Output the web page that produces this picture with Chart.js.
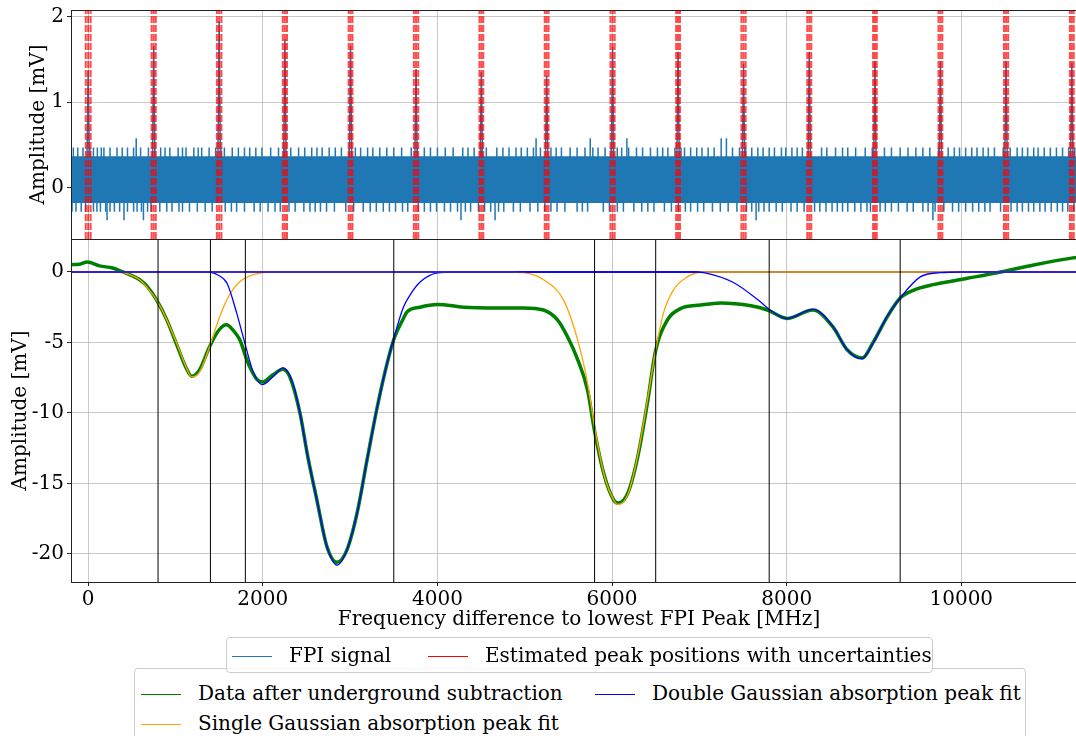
<!DOCTYPE html>
<html lang="en">
<head>
<meta charset="UTF-8">
<meta name="viewport" content="width=device-width, initial-scale=1.0">
<title>FPI signal and absorption peak fits</title>
<script src="https://cdn.jsdelivr.net/npm/chart.js@4.4.1/dist/chart.umd.min.js"></script>
<style>
  body { margin: 0; width: 1076px; height: 736px; overflow: hidden; position: relative; background: #fff; font-family: 'DejaVu Serif', serif; }
  canvas { position: absolute; left: 0; }
  .legend { position: absolute; background: rgba(255,255,255,0.8); border: 1px solid #cccccc; border-radius: 4px; font-size: 20px; color: #000; }
  .item { position: absolute; white-space: nowrap; line-height: 24px; }
  .swatch { display: inline-block; width: 40px; height: 0; border-top: 1.5px solid; vertical-align: middle; margin-right: 17px; }
</style>
</head>
<body>

<canvas id="fpiChart" width="1087" height="240" style="top:0;"></canvas>
<canvas id="absChart" width="1087" height="410" style="top:230px;"></canvas>

<!-- lower legend first, the upper one sits on top of its edge -->
<div class="legend" style="left:134px; top:668px; width:890px; height:90px;">
  <div class="item" style="left:6px; top:12px;"><span class="swatch" style="border-color:#008000;"></span>Data after underground subtraction</div>
  <div class="item" style="left:460px; top:12px;"><span class="swatch" style="border-color:#0000ff;"></span>Double Gaussian absorption peak fit</div>
  <div class="item" style="left:6px; top:42px;"><span class="swatch" style="border-color:#ffa500;"></span>Single Gaussian absorption peak fit</div>
</div>
<div class="legend" style="left:226px; top:637px; width:705px; height:34px;">
  <div class="item" style="left:5px; top:5px;"><span class="swatch" style="border-color:#1f77b4;"></span>FPI signal</div>
  <div class="item" style="left:201px; top:5px;"><span class="swatch" style="border-color:#ff0000;"></span>Estimated peak positions with uncertainties</div>
</div>

<script>
// frequency axis shared by both panels [MHz]
const freqMin = -197;
const freqMax = 11440;
const freqTicks = [0, 2000, 4000, 6000, 8000, 10000];

// ---- upper panel: FPI transmission [mV] ----
const fpiMin = -0.6;
const fpiMax = 2.08;
const fpiTicks = [0, 1, 2];

// noise band of the FPI trace
const fpiBandX = [freqMin, freqMax];
const fpiBandTop = [0.36, 0.36];
const fpiBandBottom = [-0.17, -0.17];

// single samples sticking out of the band
const fpiSpikeUpX = [-170, -120, -60, 20, 60, 105, 150, 180, 250, 330, 390, 450, 520, 600, 690, 760, 830, 880, 935,
  1030, 1080, 1120, 1210, 1260, 1300, 1385, 1460, 1520, 1560, 1650, 1720, 1790, 1850, 1920, 1990, 2090, 2180, 2250,
  2320, 2410, 2480, 2560, 2620, 2680, 2760, 2830, 2900, 2990, 3060, 3120, 3200, 3260, 3340, 3420, 3500, 3590, 3700,
  3770, 3850, 3920, 4000, 4090, 4180, 4290, 4350, 4420, 4500, 4560, 4680, 4750, 4820, 4900, 4960, 5030, 5100, 5180,
  5300, 5360, 5420, 5520, 5600, 5690, 5780, 5840, 5920, 5990, 6060, 6110, 6190, 6280, 6350, 6440, 6520, 6580, 6640,
  6720, 6790, 6830, 6900, 6970, 7030, 7100, 7170, 7380, 7460, 7530, 7600, 7670, 7730, 7800, 7860, 7940, 7990, 8060,
  8120, 8180, 8400, 8460, 8560, 8640, 8700, 8790, 8900, 8980, 9120, 9200, 9300, 9390, 9480, 9560, 9640, 9740, 9850,
  9920, 9980, 10050, 10120, 10180, 10250, 10310, 10380, 10480, 10560, 10640, 10700, 10760, 10830, 10880, 10950,
  11020, 11090, 11160, 11230, 11300, 11380];
const fpiSpikeTallX = [550, 5130, 5750, 6170, 7250, 7310];
const fpiSpikeDownX = [-185, -140, -80, -30, 60, 100, 140, 200, 250, 300, 360, 450, 520, 560, 610, 680, 720, 820, 900,
  960, 1040, 1080, 1160, 1250, 1340, 1420, 1570, 1640, 1700, 1790, 1900, 1970, 2060, 2140, 2200, 2300, 2370, 2470,
  2540, 2600, 2660, 2730, 2820, 2950, 3040, 3150, 3230, 3300, 3380, 3450, 3520, 3600, 3660, 3780, 3850, 3920, 3990,
  4080, 4150, 4230, 4320, 4380, 4470, 4540, 4610, 4700, 4760, 4870, 4950, 5060, 5150, 5230, 5300, 5370, 5460, 5600,
  5660, 5720, 5900, 5970, 6060, 6130, 6250, 6340, 6410, 6480, 6600, 6680, 6760, 6840, 6900, 6980, 7050, 7150, 7240,
  7330, 7430, 7540, 7600, 7680, 7740, 7800, 7880, 7950, 8050, 8120, 8200, 8320, 8380, 8450, 8520, 8580, 8640, 8700,
  8780, 8850, 8920, 8960, 9070, 9130, 9200, 9280, 9380, 9450, 9560, 9620, 9700, 9800, 9900, 9970, 10050, 10130,
  10200, 10270, 10330, 10450, 10570, 10640, 10700, 10770, 10830, 10900, 10960, 11030, 11100, 11160, 11220, 11290,
  11370];
const fpiSpikeDeepX = [216, 410, 633, 4270, 4660, 7650, 9675];
const fpiSpikeLevels = [0.47, 0.58, -0.28, -0.38];

// FPI transmission peaks and their estimated positions
const peakPositions = [0, 750, 1500, 2253, 3005, 3755, 4503, 5251, 6006, 6756, 7506, 8259, 9011, 9761, 10513, 11266];
const peakErrors = [28, 24, 26, 24, 22, 25, 22, 22, 24, 22, 24, 23, 21, 22, 24, 22];
const peakHeights = [1.37, 1.66, 1.95, 1.74, 1.66, 1.39, 1.35, 1.31, 1.65, 1.59, 1.45, 1.59, 1.48, 1.48, 1.48, 1.46];

// ---- lower panel: absorption signal [mV] ----
const absMin = -22.0;
const absMax = 2.34;
const absTicks = [0, -5, -10, -15, -20];

const dataX = [-197, -100, -10, 130, 280, 400, 480, 590, 680, 785, 900, 1010, 1125, 1185, 1275, 1390, 1500, 1585,
  1655, 1735, 1830, 1930, 2000, 2115, 2230, 2310, 2425, 2515, 2620, 2735, 2850, 2965, 3080, 3195, 3310, 3425, 3505,
  3610, 3650, 3800, 4000, 4300, 4690, 4985, 5215, 5375, 5490, 5605, 5720, 5800, 5905, 6020, 6070, 6180, 6295, 6410,
  6495, 6635, 6785, 7015, 7245, 7590, 7780, 8005, 8300, 8530, 8690, 8865, 8990, 9150, 9300, 9450, 9680, 10070,
  10450, 10830, 11280, 11440];
const dataY = [0.52, 0.55, 0.7, 0.43, 0.28, 0.0, -0.2, -0.55, -1.05, -2.0, -3.4, -5.1, -6.85, -7.4, -6.95, -5.3, -4.1,
  -3.75, -4.1, -4.8, -6.45, -7.6, -7.8, -7.3, -6.9, -7.45, -10.0, -13.1, -16.2, -19.5, -20.6, -19.7, -17.1, -13.3,
  -9.6, -6.45, -4.7, -3.3, -2.85, -2.5, -2.3, -2.5, -2.55, -2.55, -2.7, -3.4, -4.6, -6.2, -8.4, -11.3, -14.3, -16.2,
  -16.4, -15.7, -13.1, -9.1, -5.7, -3.4, -2.6, -2.35, -2.2, -2.4, -2.7, -3.3, -2.7, -3.9, -5.5, -6.1, -5.0, -3.2,
  -1.85, -1.3, -0.9, -0.45, 0.0, 0.5, 1.0, 1.12];

// single Gaussian fits, one per window pair
const singleAX = [-197, 300, 390, 480, 590, 680, 785, 900, 1010, 1125, 1185, 1275, 1390, 1505, 1620, 1735, 1880, 2000,
  2150, 11440];
const singleAY = [0, 0, -0.02, -0.2, -0.55, -1.15, -2.0, -3.4, -5.0, -6.8, -7.45, -7.1, -5.3, -3.2, -1.6, -0.7, -0.2,
  -0.05, 0, 0];
const singleBX = [-197, 4800, 4985, 5215, 5445, 5605, 5720, 5800, 5905, 6020, 6070, 6180, 6295, 6410, 6495, 6590, 6700,
  6860, 7050, 11440];
const singleBY = [0, 0, -0.05, -0.55, -2.0, -4.8, -7.9, -11.0, -14.3, -16.2, -16.5, -15.8, -13.0, -8.9, -5.7, -2.9,
  -1.3, -0.35, 0, 0];

// double Gaussian fits
const doubleAX = [-197, 1300, 1400, 1480, 1590, 1700, 1805, 1885, 1990, 2115, 2230, 2345, 2425, 2515, 2620, 2735, 2850,
  2965, 3080, 3195, 3310, 3425, 3505, 3610, 3690, 3805, 4000, 4200, 11440];
const doubleAY = [0, 0, -0.02, -0.2, -0.8, -2.9, -5.3, -7.0, -8.0, -7.45, -6.8, -7.9, -10.0, -13.1, -16.2, -19.5, -20.8,
  -19.7, -17.1, -13.3, -9.6, -6.45, -4.6, -2.5, -1.6, -0.7, -0.07, 0, 0];
const doubleBX = [-197, 6950, 7050, 7390, 7695, 7810, 8000, 8305, 8535, 8690, 8860, 8995, 9145, 9300, 9530, 9760, 10000,
  11440];
const doubleBY = [0, 0, -0.05, -0.75, -2.1, -2.7, -3.3, -2.65, -3.9, -5.5, -6.15, -5.0, -3.2, -1.85, -0.35, -0.05, 0, 0];

// limits of the fit windows
const fitBounds = [800, 1400, 1800, 3500, 5800, 6500, 7800, 9300];

// ---- helpers ----
const pts = (xs, ys) => xs.map((x, i) => ({x: x, y: ys[i]}));

function vlines(xs, y0, y1) {
  const out = [];
  xs.forEach(x => out.push({x: x, y: y0}, {x: x, y: y1}, {x: x, y: null}));
  return out;
}

function spikes(xs, base, tip) {
  const out = [];
  xs.forEach(x => out.push({x: x, y: base}, {x: x, y: tip}, {x: x, y: null}));
  return out;
}

function peaks(xs, hs, base) {
  const out = [];
  xs.forEach((x, i) => out.push({x: x - 14, y: base}, {x: x, y: hs[i]}, {x: x + 14, y: base}, {x: x, y: null}));
  return out;
}

Chart.defaults.font.family = "'DejaVu Serif', serif";
Chart.defaults.font.size = 20;
Chart.defaults.color = '#000';

const gridColor = 'rgba(176,176,176,0.7)';
const fpiBlue = '#1f77b4';
const peakRed = 'rgba(255,0,0,0.7)';

// black frame around the plotting area
const axesFrame = {
  id: 'axesFrame',
  afterDatasetsDraw(chart) {
    const a = chart.chartArea;
    const ctx = chart.ctx;
    ctx.save();
    ctx.strokeStyle = '#222';
    ctx.lineWidth = 1;
    ctx.strokeRect(a.left + 0.5, a.top + 0.5, a.right - a.left, a.bottom - a.top);
    ctx.restore();
  }
};

function freqAxis(showLabels) {
  return {
    type: 'linear',
    min: freqMin,
    max: freqMax,
    afterBuildTicks: s => { s.ticks = freqTicks.map(v => ({value: v})); },
    afterFit: s => { s.height = showLabels ? 58 : 1; s.paddingLeft = 0; s.paddingRight = 0; },
    ticks: { display: showLabels, padding: 2, maxRotation: 0, callback: v => String(v) },
    grid: { color: gridColor, lineWidth: 1, drawTicks: showLabels, tickLength: 4, tickColor: '#222' },
    border: { display: false },
    title: showLabels
      ? { display: true, text: 'Frequency difference to lowest FPI Peak [MHz]', padding: {top: 0, bottom: 8} }
      : { display: false }
  };
}

function ampAxis(min, max, ticks, titlePad) {
  return {
    type: 'linear',
    min: min,
    max: max,
    afterBuildTicks: s => { s.ticks = ticks.map(v => ({value: v})); },
    // fixed width, and no extra room reserved for the outer labels
    afterFit: s => { s.width = 71; s.paddingTop = 0; s.paddingBottom = 0; },
    ticks: { padding: 3, callback: v => String(v) },
    grid: { color: gridColor, lineWidth: 1, tickLength: 4, tickColor: '#222' },
    border: { display: false },
    title: { display: true, text: 'Amplitude [mV]', padding: {top: titlePad, bottom: 0} }
  };
}

const lineBase = { pointRadius: 0, fill: false, spanGaps: false };
const smooth = { cubicInterpolationMode: 'monotone' };

// upper panel
new Chart(document.getElementById('fpiChart'), {
  type: 'line',
  data: {
    datasets: [
      { ...lineBase, data: pts(fpiBandX, fpiBandTop), borderColor: fpiBlue, borderWidth: 1.5, order: 2 },
      { ...lineBase, data: pts(fpiBandX, fpiBandBottom), borderColor: fpiBlue, borderWidth: 1.5,
        fill: '-1', backgroundColor: fpiBlue, order: 2 },
      { ...lineBase, data: spikes(fpiSpikeUpX, 0.3, fpiSpikeLevels[0]), borderColor: fpiBlue, borderWidth: 1.5, order: 2 },
      { ...lineBase, data: spikes(fpiSpikeTallX, 0.3, fpiSpikeLevels[1]), borderColor: fpiBlue, borderWidth: 1.5, order: 2 },
      { ...lineBase, data: spikes(fpiSpikeDownX, -0.1, fpiSpikeLevels[2]), borderColor: fpiBlue, borderWidth: 1.5, order: 2 },
      { ...lineBase, data: spikes(fpiSpikeDeepX, -0.1, fpiSpikeLevels[3]), borderColor: fpiBlue, borderWidth: 1.5, order: 2 },
      { ...lineBase, data: peaks(peakPositions, peakHeights, 0.3), borderColor: fpiBlue, borderWidth: 1.5, order: 2 },
      { ...lineBase, data: vlines(peakPositions, fpiMin, fpiMax), borderColor: peakRed, borderWidth: 2,
        borderDash: [7, 2], order: 1 },
      { ...lineBase, data: vlines(peakPositions.map((p, i) => p - peakErrors[i]), fpiMin, fpiMax), borderColor: peakRed,
        borderWidth: 2, borderDash: [7, 2], order: 1 },
      { ...lineBase, data: vlines(peakPositions.map((p, i) => p + peakErrors[i]), fpiMin, fpiMax), borderColor: peakRed,
        borderWidth: 2, borderDash: [7, 2], order: 1 }
    ]
  },
  options: {
    responsive: false,
    animation: false,
    devicePixelRatio: 1,
    layout: { padding: { top: 10, right: 0, bottom: 0, left: 0 } },
    plugins: { legend: { display: false }, tooltip: { enabled: false } },
    scales: { x: freqAxis(false), y: ampAxis(fpiMin, fpiMax, fpiTicks, 27) }
  },
  plugins: [axesFrame]
});

// lower panel: data, then fits window by window, fit limits on top
new Chart(document.getElementById('absChart'), {
  type: 'line',
  data: {
    datasets: [
      { ...lineBase, ...smooth, data: pts(dataX, dataY), borderColor: '#008000', borderWidth: 3.5, order: 5 },
      { ...lineBase, ...smooth, data: pts(singleAX, singleAY), borderColor: '#ffa500', borderWidth: 1.3, order: 4 },
      { ...lineBase, ...smooth, data: pts(doubleAX, doubleAY), borderColor: '#0000ff', borderWidth: 1.3, order: 3 },
      { ...lineBase, ...smooth, data: pts(singleBX, singleBY), borderColor: '#ffa500', borderWidth: 1.3, order: 2 },
      { ...lineBase, ...smooth, data: pts(doubleBX, doubleBY), borderColor: '#0000ff', borderWidth: 1.3, order: 1 },
      { ...lineBase, data: vlines(fitBounds, absMin, absMax), borderColor: '#000', borderWidth: 1, order: 0 }
    ]
  },
  options: {
    responsive: false,
    animation: false,
    devicePixelRatio: 1,
    layout: { padding: { top: 9, right: 0, bottom: 0, left: 0 } },
    plugins: { legend: { display: false }, tooltip: { enabled: false } },
    scales: { x: freqAxis(true), y: ampAxis(absMin, absMax, absTicks, 9) }
  },
  plugins: [axesFrame]
});
</script>
</body>
</html>
